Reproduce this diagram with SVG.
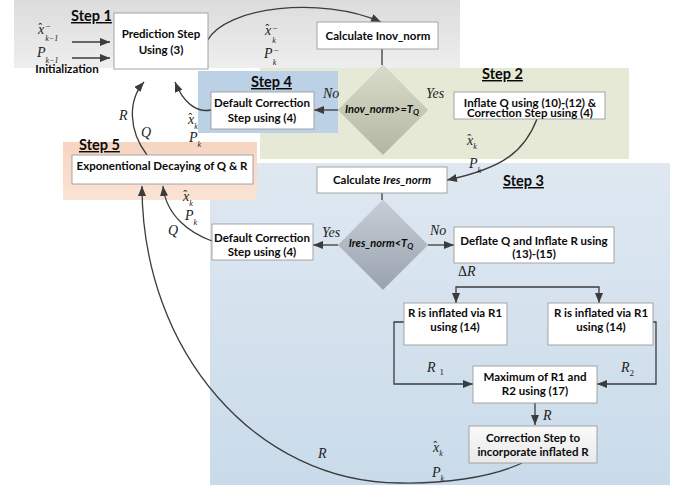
<svg xmlns="http://www.w3.org/2000/svg" width="686" height="486" viewBox="0 0 686 486">
  <defs>
    <linearGradient id="gStep1" x1="0" y1="0" x2="0" y2="1">
      <stop offset="0" stop-color="#dcdcdc"/>
      <stop offset="1" stop-color="#eeeeee"/>
    </linearGradient>
    <linearGradient id="gStep3" x1="0" y1="0" x2="0" y2="1">
      <stop offset="0" stop-color="#dfe8f1"/>
      <stop offset="1" stop-color="#c9dbea"/>
    </linearGradient>
    <linearGradient id="gStep5" x1="0" y1="0" x2="0" y2="1">
      <stop offset="0" stop-color="#f6d5c0"/>
      <stop offset="1" stop-color="#fae3d5"/>
    </linearGradient>
    <linearGradient id="gDiaA" x1="0" y1="0" x2="0" y2="1">
      <stop offset="0" stop-color="#dadccb"/>
      <stop offset="1" stop-color="#b3b6a2"/>
    </linearGradient>
    <linearGradient id="gDiaB" x1="0" y1="0" x2="0" y2="1">
      <stop offset="0" stop-color="#c8ced6"/>
      <stop offset="1" stop-color="#98a2ae"/>
    </linearGradient>
    <linearGradient id="gCorr" x1="0" y1="0" x2="0" y2="1">
      <stop offset="0" stop-color="#fafafa"/>
      <stop offset="1" stop-color="#e9e9e9"/>
    </linearGradient>
    <marker id="arrow" viewBox="0 0 10 8" refX="10" refY="4" markerWidth="10" markerHeight="8" markerUnits="userSpaceOnUse" orient="auto">
      <path d="M0,0 L10,4 L0,8 Z" fill="#3c3c3c"/>
    </marker>
    <style>
      .box { fill: #ffffff; stroke: #9c9c9c; stroke-width: 0.9; }
      .lbl { font-family: Lato, "Liberation Sans", sans-serif; font-weight: bold; font-size: 11.5px; fill: #0a0a0a; text-anchor: middle; }
      .step { font-family: Lato, "Liberation Sans", sans-serif; font-weight: bold; font-size: 14.5px; fill: #0a0a0a; text-decoration: underline; }
      .dia { font-family: Lato, "Liberation Sans", sans-serif; font-weight: bold; font-style: italic; font-size: 11px; fill: #0a0a0a; text-anchor: middle; }
      .m { font-family: "Liberation Serif", "DejaVu Serif", serif; font-style: italic; font-size: 14px; fill: #222; }
      .hat { font-style: normal; font-size: 12px; }
      .s { font-size: 8px; }
      .sn { font-style: normal; font-size: 9px; }
      .c { fill: none; stroke: #3c3c3c; stroke-width: 1.3; }
    </style>
  </defs>

  <!-- step panels -->
  <g id="panels">
    <rect id="panel-step1" x="14" y="0" width="446" height="68" fill="url(#gStep1)"/>
    <rect id="panel-step2" x="260" y="68" width="369" height="91" fill="#e5e9d6"/>
    <rect id="panel-step3" x="210" y="163" width="460" height="322" fill="url(#gStep3)"/>
    <rect id="panel-step4" x="198" y="71" width="140" height="62" fill="#bcd1e5"/>
    <rect id="panel-step5" x="63" y="142" width="194" height="58" fill="url(#gStep5)"/>
    <text class="step" x="71" y="21">Step 1</text>
    <text class="step" x="482" y="79">Step 2</text>
    <text class="step" x="503" y="186">Step 3</text>
    <text class="step" x="251" y="87">Step 4</text>
    <text class="step" x="79" y="150">Step 5</text>
  </g>

  <!-- connectors -->
  <g id="connectors">
    <path class="c" d="M72,42 H110" marker-end="url(#arrow)"/>
    <path class="c" d="M72,58 H110" marker-end="url(#arrow)"/>
    <path class="c" d="M207,41 C226,6 322,-4 381,22" marker-end="url(#arrow)"/>
    <path class="c" d="M382,49 V65"/>
    <path class="c" d="M338,110 H314" marker-end="url(#arrow)"/>
    <path class="c" d="M211,110 C196,113 183,102 175,82" marker-end="url(#arrow)"/>
    <path class="c" d="M147,155 C128,130 128,100 144,82" marker-end="url(#arrow)"/>
    <path class="c" d="M537,119 C525,150 505,168 447,180" marker-end="url(#arrow)"/>
    <path class="c" d="M382,193 V200"/>
    <path class="c" d="M338,245 H313" marker-end="url(#arrow)"/>
    <path class="c" d="M428,245 H454" marker-end="url(#arrow)"/>
    <path class="c" d="M212,241 C190,233 166,216 163,186" marker-end="url(#arrow)"/>
    <path class="c" d="M528,287 H456 V303" marker-end="url(#arrow)"/>
    <path class="c" d="M528,287 H599 V303" marker-end="url(#arrow)"/>
    <path class="c" d="M404,322 H394 V384 H473" marker-end="url(#arrow)"/>
    <path class="c" d="M653,322 H656 V384 H597" marker-end="url(#arrow)"/>
    <path class="c" d="M535,403 V425" marker-end="url(#arrow)"/>
    <path class="c" d="M522,463 C490,478 440,484 400,483 C257,483 142,352 142,186" marker-end="url(#arrow)"/>
  </g>

  <!-- nodes -->
  <g id="node-prediction">
    <rect class="box" x="114" y="13" width="94" height="56"/>
    <text class="lbl" x="161" y="38">Prediction Step</text>
    <text class="lbl" x="161" y="54">Using (3)</text>
  </g>
  <g id="node-calc-inov">
    <rect class="box" x="317" y="22" width="121" height="27"/>
    <text class="lbl" x="378" y="40">Calculate Inov_norm</text>
  </g>
  <g id="node-test-inov">
    <polygon points="383,65 428,110 383,155 338,110" fill="url(#gDiaA)" stroke="#cfd0c6" stroke-width="0.8"/>
    <text class="dia" x="382" y="113">Inov_norm&gt;=T<tspan font-size="8" dy="2">Q</tspan></text>
  </g>
  <g id="node-default-corr-a">
    <rect class="box" x="211" y="92" width="103" height="37"/>
    <text class="lbl" x="262" y="107">Default Correction</text>
    <text class="lbl" x="262" y="122">Step using (4)</text>
  </g>
  <g id="node-inflate-q">
    <rect class="box" x="454" y="92" width="151" height="27"/>
    <text class="lbl" x="530" y="106.5" font-size="10.5">Inflate Q using (10)-(12) &amp;</text>
    <text class="lbl" x="530" y="116.5" font-size="10.5">Correction Step using (4)</text>
  </g>
  <g id="node-decay">
    <rect class="box" x="72" y="155" width="181" height="29"/>
    <text class="lbl" x="162" y="170">Exponentional Decaying of Q &amp; R</text>
  </g>
  <g id="node-calc-ires">
    <rect class="box" x="317" y="167" width="130" height="26"/>
    <text class="lbl" x="382" y="184">Calculate <tspan font-style="italic">Ires_norm</tspan></text>
  </g>
  <g id="node-test-ires">
    <polygon points="383,200 428,245 383,290 338,245" fill="url(#gDiaB)" stroke="#c7ccd3" stroke-width="0.8"/>
    <text class="dia" x="381" y="247">Ires_norm&lt;T<tspan font-size="8" dy="2">Q</tspan></text>
  </g>
  <g id="node-default-corr-b">
    <rect class="box" x="212" y="224" width="101" height="36"/>
    <text class="lbl" x="262" y="242">Default Correction</text>
    <text class="lbl" x="262" y="256">Step using (4)</text>
  </g>
  <g id="node-deflate">
    <rect class="box" x="454" y="227" width="160" height="36"/>
    <text class="lbl" x="534" y="245">Deflate Q and Inflate R using</text>
    <text class="lbl" x="534" y="258">(13)-(15)</text>
  </g>
  <g id="node-r1">
    <rect class="box" x="404" y="303" width="103" height="42"/>
    <text class="lbl" x="455" y="317">R is inflated via R1</text>
    <text class="lbl" x="455" y="331">using (14)</text>
  </g>
  <g id="node-r2">
    <rect class="box" x="548" y="303" width="105" height="42"/>
    <text class="lbl" x="601" y="317">R is inflated via R1</text>
    <text class="lbl" x="601" y="331">using (14)</text>
  </g>
  <g id="node-max">
    <rect class="box" x="473" y="366" width="124" height="37"/>
    <text class="lbl" x="535" y="381">Maximum of R1 and</text>
    <text class="lbl" x="535" y="395">R2 using (17)</text>
  </g>
  <g id="node-correction">
    <rect x="469" y="426" width="128" height="37" fill="url(#gCorr)" stroke="#9c9c9c" stroke-width="0.9"/>
    <text class="lbl" x="533" y="442">Correction Step to</text>
    <text class="lbl" x="533" y="456">incorporate inflated R</text>
  </g>

  <!-- edge and input labels -->
  <g id="labels">
    <text class="lbl" x="67" y="73" font-size="12.5">Initialization</text>

    <text class="m" x="38" y="34">x<tspan class="hat" dx="-6" dy="-2">ˆ</tspan><tspan class="sn" dx="3" dy="-3">−</tspan><tspan class="s" dx="-5" dy="12">k−1</tspan></text>
    <text class="m" x="37" y="57" font-size="15">P<tspan class="s" dx="0" dy="6">k−1</tspan></text>

    <text class="m" x="265" y="35">x<tspan class="hat" dx="-6" dy="-2">ˆ</tspan><tspan class="sn" dx="3" dy="-2">−</tspan><tspan class="s" dx="-5" dy="12">k</tspan></text>
    <text class="m" x="264" y="58">P<tspan class="sn" dx="1" dy="-5">−</tspan><tspan class="s" dx="-6" dy="12">k</tspan></text>

    <text class="m" x="323" y="98">No</text>
    <text class="m" x="426" y="98">Yes</text>

    <text class="m" x="188" y="124">x<tspan class="hat" dx="-6" dy="-2">ˆ</tspan><tspan class="s" dx="2" dy="7">k</tspan></text>
    <text class="m" x="189" y="142">P<tspan class="s" dx="0" dy="5">k</tspan></text>

    <text class="m" x="119" y="120">R</text>
    <text class="m" x="141" y="137">Q</text>

    <text class="m" x="467" y="145">x<tspan class="hat" dx="-6" dy="-2">ˆ</tspan><tspan class="s" dx="2" dy="6">k</tspan></text>
    <text class="m" x="469" y="168">P<tspan class="s" dx="0" dy="5">k</tspan></text>

    <text class="m" x="183" y="201">x<tspan class="hat" dx="-6" dy="-2">ˆ</tspan><tspan class="s" dx="2" dy="7">k</tspan></text>
    <text class="m" x="185" y="220">P<tspan class="s" dx="0" dy="5">k</tspan></text>
    <text class="m" x="168" y="235">Q</text>

    <text class="m" x="322" y="237">Yes</text>
    <text class="m" x="430" y="235">No</text>

    <text class="m" x="458" y="276" font-size="12"><tspan font-style="normal">Δ</tspan>R</text>
    <text class="m" x="427" y="372">R<tspan class="sn" dx="4" dy="3" font-size="7">1</tspan></text>
    <text class="m" x="621" y="372">R<tspan class="sn" dx="0" dy="4" font-size="7">2</tspan></text>
    <text class="m" x="543" y="420">R</text>

    <text class="m" x="318" y="458">R</text>
    <text class="m" x="433" y="452">x<tspan class="hat" dx="-6" dy="-2">ˆ</tspan><tspan class="s" dx="2" dy="6">k</tspan></text>
    <text class="m" x="432" y="477">P<tspan class="s" dx="0" dy="4">k</tspan></text>
  </g>
</svg>
